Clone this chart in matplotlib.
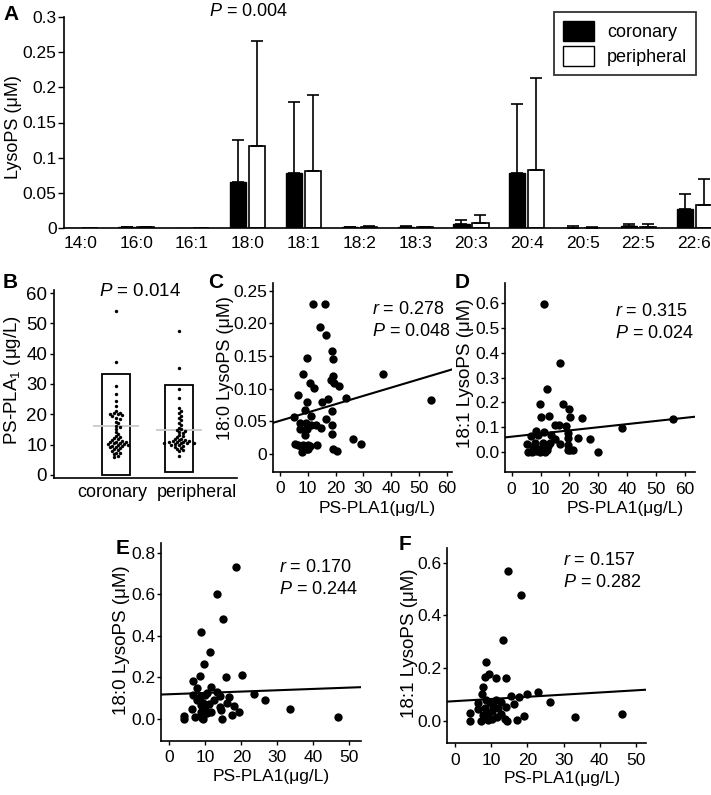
import numpy as np
import matplotlib
matplotlib.use('Agg')
import matplotlib.pyplot as plt
from matplotlib.patches import Patch

plt.rcParams['font.family'] = ['Liberation Sans', 'DejaVu Sans']
plt.rcParams['mathtext.fontset'] = 'custom'
plt.rcParams['mathtext.rm'] = 'Liberation Sans'
plt.rcParams['mathtext.it'] = 'Liberation Sans:italic'

# ---------------- data ----------------
species = ['14:0', '16:0', '16:1', '18:0', '18:1', '18:2', '18:3', '20:3', '20:4', '20:5', '22:5', '22:6']
coronary_mean = [0, 0.001, 0, 0.066, 0.0775, 0.001, 0.001, 0.0057, 0.0775, 0.0005, 0.003, 0.0274]
coronary_sd = [0, 0.0005, 0, 0.0586, 0.101, 0.001, 0.002, 0.0061, 0.0985, 0.0025, 0.003, 0.0203]
peripheral_mean = [0, 0.001, 0, 0.117, 0.0808, 0.001, 0.001, 0.0076, 0.0827, 0.0005, 0.002, 0.0326]
peripheral_sd = [0, 0.0005, 0, 0.1495, 0.1086, 0.002, 0.001, 0.0114, 0.1303, 0.0005, 0.003, 0.0364]

groups_B = ['coronary', 'peripheral']
pla1_coronary = [54.2, 37.4, 29.5, 26.6, 24.4, 22.9, 21.0, 20.6, 20.3, 20.1, 20.0, 19.8, 19.5,
                 18.9, 18.4, 17.6, 17.0, 16.3, 15.9, 15.2, 14.3, 13.6, 12.9, 12.6, 12.2, 11.8,
                 11.5, 11.3, 11.0, 10.9, 10.8, 10.6, 10.4, 10.2, 10.1, 10.0, 9.9, 9.7, 9.5, 9.3,
                 9.1, 8.8, 8.5, 8.2, 7.8, 7.4, 7.1, 6.8, 6.4, 5.9]
pla1_peripheral = [47.6, 35.4, 28.2, 25.3, 22.0, 21.2, 20.4, 19.6, 18.8, 18.0, 17.2, 16.4, 15.6,
                   15.0, 14.8, 14.5, 14.2, 13.7, 13.2, 12.8, 12.4, 12.0, 11.8, 11.6, 11.4, 11.2,
                   11.1, 11.0, 10.9, 10.8, 10.7, 10.6, 10.5, 10.4, 10.2, 10.0, 9.8, 9.6, 9.3, 9.0,
                   8.6, 8.2, 7.8, 6.4]
box_top_B = [33.4, 29.6]
box_bottom_B = [0.0, 0.9]
center_line_B = [16.3, 14.9]

C_x = [12.0, 16.3, 14.4, 16.4, 18.6, 9.6, 19.2, 37.0, 8.2, 19.2, 18.4, 19.6, 10.8, 12.2, 21.4,
       6.6, 23.6, 17.4, 54.3, 15.1, 9.6, 9.0, 18.7, 5.2, 11.0, 16.6, 7.2, 9.4, 11.0, 13.0, 14.6,
       18.6, 7.4, 9.8, 9.0, 18.6, 26.4, 29.1, 5.4, 6.6, 8.4, 10.2, 13.4, 7.8, 9.6, 10.8, 19.2,
       20.4, 7.8, 10.2]
C_y = [0.230, 0.230, 0.195, 0.182, 0.158, 0.147, 0.145, 0.123, 0.123, 0.120, 0.114, 0.109, 0.109,
       0.101, 0.105, 0.091, 0.086, 0.085, 0.083, 0.079, 0.079, 0.067, 0.066, 0.057, 0.059, 0.053,
       0.048, 0.048, 0.045, 0.044, 0.040, 0.044, 0.038, 0.038, 0.029, 0.030, 0.023, 0.016, 0.016,
       0.014, 0.014, 0.014, 0.014, 0.009, 0.008, 0.012, 0.008, 0.004, 0.003, 0.007]
C_fit = [0.00127, 0.051]   # slope, intercept

D_x = [11.3, 16.7, 12.3, 9.8, 17.9, 19.7, 10.1, 12.8, 20.2, 24.3, 15.0, 16.3, 18.8, 38.2, 55.9,
       8.4, 11.3, 9.2, 13.8, 19.4, 6.7, 23.1, 27.1, 14.9, 19.4, 5.3, 8.1, 10.7, 13.3, 16.9, 19.4,
       5.5, 6.9, 8.4, 9.8, 11.5, 12.3, 9.2, 11.0, 20.2, 21.3, 29.8, 7.3, 12.7, 19.4]
D_y = [0.597, 0.357, 0.252, 0.193, 0.193, 0.171, 0.142, 0.144, 0.142, 0.135, 0.110, 0.110, 0.106,
       0.097, 0.131, 0.085, 0.078, 0.067, 0.067, 0.074, 0.065, 0.057, 0.053, 0.051, 0.054, 0.030,
       0.034, 0.034, 0.034, 0.032, 0.027, 0.0, 0.0, 0.003, 0.0, 0.0, 0.007, 0.013, 0.020, 0.007,
       0.007, 0.0, 0.020, 0.023, 0.007]
D_fit = [0.00127, 0.061]

E_x = [18.5, 13.3, 14.9, 8.8, 11.4, 9.5, 8.5, 15.7, 20.1, 6.6, 7.6, 11.5, 13.3, 6.7, 9.9, 10.6,
       8.5, 14.1, 16.5, 23.4, 26.6, 7.6, 12.4, 9.4, 11.1, 8.7, 18.0, 14.1, 6.3, 9.9, 8.7, 11.6,
       19.3, 14.3, 17.4, 33.6, 4.2, 7.1, 9.4, 4.2, 9.4, 14.5, 46.9, 9.0, 10.4, 15.9]
E_y = [0.733, 0.604, 0.481, 0.419, 0.322, 0.264, 0.208, 0.203, 0.214, 0.182, 0.148, 0.153, 0.132,
       0.116, 0.116, 0.127, 0.108, 0.111, 0.108, 0.119, 0.089, 0.092, 0.092, 0.079, 0.072, 0.068,
       0.063, 0.056, 0.047, 0.043, 0.035, 0.031, 0.031, 0.043, 0.019, 0.050, 0.014, 0.011, 0.014,
       0.0, 0.0, 0.0, 0.008, 0.003, 0.027, 0.079]
E_fit = [0.00064, 0.119]

F_x = [14.7, 18.2, 13.2, 8.7, 8.3, 9.5, 11.3, 14.0, 7.6, 7.4, 23.0, 19.8, 15.5, 17.6, 26.2, 8.6,
       11.3, 9.7, 12.7, 6.4, 16.4, 14.1, 6.4, 8.3, 10.6, 9.2, 10.1, 4.1, 12.7, 19.1, 4.1, 7.1,
       9.2, 11.5, 14.5, 17.2, 33.1, 46.2, 8.7, 10.1, 7.8, 12.0, 13.8]
F_y = [0.570, 0.476, 0.308, 0.223, 0.168, 0.178, 0.162, 0.161, 0.130, 0.103, 0.111, 0.101, 0.095,
       0.089, 0.071, 0.080, 0.080, 0.073, 0.070, 0.067, 0.065, 0.054, 0.046, 0.048, 0.058, 0.029,
       0.039, 0.029, 0.027, 0.020, 0.001, 0.001, 0.004, 0.014, 0.001, 0.004, 0.016, 0.025, 0.016,
       0.008, 0.023, 0.048, 0.008]
F_fit = [0.00082, 0.075]

# ---------------- figure ----------------
W, H = 711, 795
fig = plt.figure(figsize=(W / 100, H / 100), dpi=100)


def px_axes(l, t, r, b):
    return fig.add_axes([l / W, 1 - b / H, (r - l) / W, (b - t) / H])


def style(ax, fs=12):
    for s in ['top', 'right']:
        ax.spines[s].set_visible(False)
    for s in ['left', 'bottom']:
        ax.spines[s].set_linewidth(1.2)
    ax.tick_params(direction='out', length=3, width=1, labelsize=fs, pad=2)


# ---- Panel A ----
axA = px_axes(63.5, 17, 711, 228)
style(axA, 12.5)
x = np.arange(len(species))
bw = 0.29
axA.bar(x - 0.17, coronary_mean, width=bw, color='black', edgecolor='black', lw=1)
axA.bar(x + 0.17, peripheral_mean, width=bw, color='white', edgecolor='black', lw=1.2)
cm = np.array(coronary_mean); cs = np.array(coronary_sd)
pm = np.array(peripheral_mean); ps = np.array(peripheral_sd)
mc = cs > 0
mp = ps > 0
axA.errorbar(x[mc] - 0.17, cm[mc], yerr=[np.zeros(mc.sum()), cs[mc]], fmt='none',
             ecolor='black', elinewidth=1.2, capsize=4, capthick=1.2)
axA.errorbar(x[mp] + 0.17, pm[mp], yerr=[np.zeros(mp.sum()), ps[mp]], fmt='none',
             ecolor='black', elinewidth=1.2, capsize=4, capthick=1.2)
axA.set_xlim(-0.3, 11.3)
axA.set_ylim(0, 0.3)
axA.set_xticks(x)
axA.set_xticklabels(species)
axA.tick_params(axis='x', length=0, pad=6)
axA.set_yticks([0, 0.05, 0.1, 0.15, 0.2, 0.25, 0.3])
axA.set_yticklabels(['0', '0.05', '0.1', '0.15', '0.2', '0.25', '0.3'])
axA.tick_params(axis='y', length=4, pad=1)
leg = axA.legend(handles=[Patch(facecolor='black', edgecolor='black', label='coronary'),
                          Patch(facecolor='white', edgecolor='black', label='peripheral')],
                 loc='upper right', bbox_to_anchor=(0.977, 1.024), borderaxespad=0,
                 fontsize=13, fancybox=False, frameon=True, handlelength=1.7, handleheight=1.3,
                 handletextpad=0.7, borderpad=0.5, labelspacing=0.3)
leg.get_frame().set_edgecolor('black')
leg.get_frame().set_linewidth(1.3)
fig.text(249 / W, 1 - 12 / H, '$P$ = 0.004', ha='center', va='center', fontsize=13)
fig.text(14 / W, 1 - 127 / H, 'LysoPS (μM)', rotation=90, ha='center', va='center', fontsize=13)

# ---- Panel B ----
axB = px_axes(54, 290, 237, 478)
style(axB, 13.5)
pos = np.arange(len(groups_B))
axB.bar(pos, np.array(box_top_B) - np.array(box_bottom_B), bottom=box_bottom_B, width=0.44,
        color='white', edgecolor='black', lw=1.3, zorder=1)
for p, c in zip(pos, center_line_B):
    axB.plot([p - 0.35, p + 0.35], [c, c], color='#c8c8c8', lw=1.3, zorder=2)


def swarm(vals, ypx, xpx, d=2.6):
    order = np.argsort(vals)[::-1]
    placed = []
    offs = np.zeros(len(vals))
    for i in order:
        v = vals[i] * ypx
        k = 0
        while True:
            c = ((k + 1) // 2) * (1 if k % 2 else -1) * d * 0.8
            ok = all((v - pv) ** 2 + (c - pc) ** 2 >= d * d for pv, pc in placed)
            if ok:
                break
            k += 1
        placed.append((v, c))
        offs[i] = c / xpx
    return offs


for p, vals in zip(pos, [pla1_coronary, pla1_peripheral]):
    vals = np.array(vals)
    offs = swarm(vals, 3.03, 63.0)
    axB.scatter(p + offs, vals, s=6, color='black', zorder=3, linewidths=0)
axB.set_xlim(-0.98, 1.92)
axB.set_ylim(-1, 61)
axB.set_yticks([0, 10, 20, 30, 40, 50, 60])
label_shift_B = [-0.06, 0.29]
axB.set_xticks(pos + np.array(label_shift_B))
axB.set_xticklabels(groups_B, fontsize=13)
axB.tick_params(axis='x', length=0, pad=4)
fig.text(140 / W, 1 - 292 / H, '$P$ = 0.014', ha='center', va='center', fontsize=13.5)
fig.text(12.5 / W, 1 - 380 / H, 'PS-PLA$_\\mathregular{1}$ (μg/L)', rotation=90, ha='center',
         va='center', fontsize=13.5)


# ---- scatter panels ----
def scatter_panel(box, xs, ys, fit, xlim, ylim, yticks, yticklabels, xticks, rtxt, ptxt,
                  txtpos, ylab_pos, ylab, xlab_pos, ylab_fs=13.5):
    ax = px_axes(*box)
    style(ax, 12.5)
    ax.scatter(xs, ys, s=36, color='black', linewidths=0, zorder=3)
    xl = np.array(xlim)
    ax.plot(xl, fit[0] * xl + fit[1], color='black', lw=1.5, zorder=2)
    ax.set_xlim(xlim)
    ax.set_ylim(ylim)
    ax.set_yticks(yticks)
    ax.set_yticklabels(yticklabels)
    ax.set_xticks(xticks)
    ax.tick_params(axis='x', pad=4)
    ax.tick_params(axis='y', pad=1)
    fig.text(txtpos[0] / W, 1 - txtpos[1] / H, '$r$ = ' + rtxt, ha='left', va='center', fontsize=13)
    fig.text(txtpos[0] / W, 1 - (txtpos[1] + 22) / H, '$P$ = ' + ptxt, ha='left', va='center',
             fontsize=13)
    fig.text(ylab_pos[0] / W, 1 - ylab_pos[1] / H, ylab, rotation=90, ha='center', va='center',
             fontsize=ylab_fs)
    fig.text(xlab_pos[0] / W, 1 - xlab_pos[1] / H, 'PS-PLA1(μg/L)', ha='center', va='center',
             fontsize=12.5)
    return ax


scatter_panel((272.7, 283, 451.7, 471.7), C_x, C_y, C_fit, (-2.6, 61.8), (-0.027, 0.262),
              [0, 0.05, 0.10, 0.15, 0.20, 0.25], ['0', '0.05', '0.10', '0.15', '0.20', '0.25'],
              [0, 10, 20, 30, 40, 50, 60], '0.278', '0.048', (371.7, 309), (225, 368),
              '18:0 LysoPS (μM)', (376.7, 508), ylab_fs=13)
scatter_panel((505, 283.3, 695, 472.3), D_x, D_y, D_fit, (-2.3, 63.5), (-0.083, 0.681),
              [0, 0.1, 0.2, 0.3, 0.4, 0.5, 0.6], ['0.0', '0.1', '0.2', '0.3', '0.4', '0.5', '0.6'],
              [0, 10, 20, 30, 40, 50, 60], '0.315', '0.024', (615, 311.7), (465, 373),
              '18:1 LysoPS (μM)', (625, 508))
scatter_panel((161, 543, 361, 740.7), E_x, E_y, E_fit, (-2.3, 53.2), (-0.105, 0.848),
              [0, 0.2, 0.4, 0.6, 0.8], ['0.0', '0.2', '0.4', '0.6', '0.8'],
              [0, 10, 20, 30, 40, 50], '0.170', '0.244', (279.3, 567.7), (121, 640),
              '18:0 LysoPS (μM)', (270.7, 776.7))
scatter_panel((446.7, 548, 646, 743.3), F_x, F_y, F_fit, (-2.3, 52.8), (-0.085, 0.656),
              [0, 0.2, 0.4, 0.6], ['0.0', '0.2', '0.4', '0.6'],
              [0, 10, 20, 30, 40, 50], '0.157', '0.282', (562.7, 560.7), (409, 643),
              '18:1 LysoPS (μM)', (562, 779))

# panel letters
for lab, (px, py) in {'A': (11, 14), 'B': (10, 283), 'C': (216, 283), 'D': (462, 283),
                      'E': (123, 548), 'F': (405, 545)}.items():
    fig.text(px / W, 1 - py / H, lab, ha='center', va='center', fontsize=15, fontweight='bold')

fig.savefig('out.png', dpi=100)
